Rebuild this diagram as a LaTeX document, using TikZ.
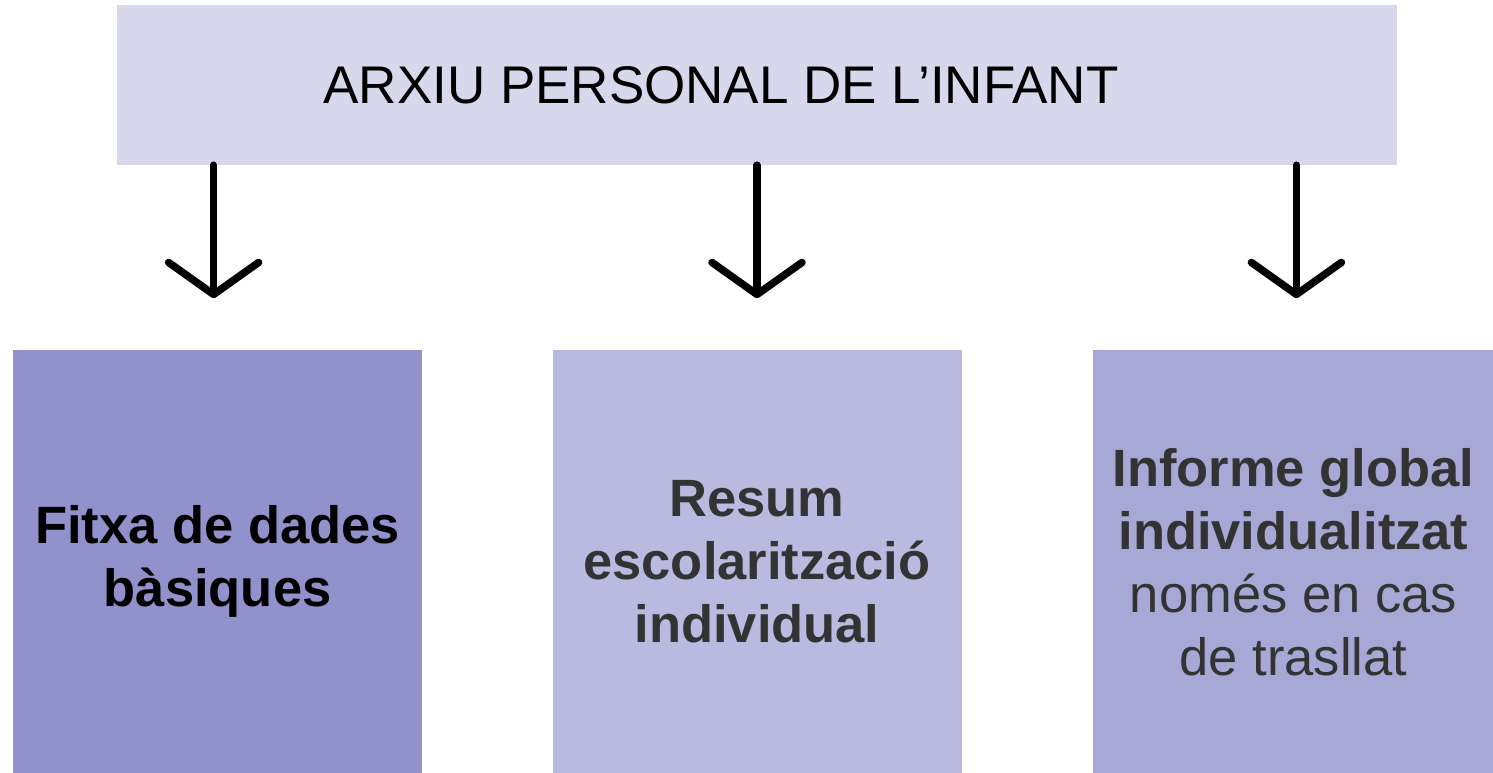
\documentclass[tikz,border=0pt]{standalone}
\usepackage{fontspec}
\setmainfont{Liberation Sans}
\usetikzlibrary{positioning}
\usetikzlibrary{calc}
\usetikzlibrary{arrows.meta}
\definecolor{arxiufill}{RGB}{216,216,236}
\definecolor{fitxafill}{RGB}{145,145,204}
\definecolor{resumfill}{RGB}{186,186,224}
\definecolor{informefill}{RGB}{168,168,214}
\definecolor{doctext}{RGB}{51,51,51}
\tikzset{x=1pt, y=-1pt,
    topbox/.style={
        fill=arxiufill,
        minimum width=1280pt,
        minimum height=160pt,
        inner sep=0pt,
        font=\fontsize{53}{63}\selectfont},
    docbox/.style={
        minimum width=409pt,
        minimum height=423pt,
        inner sep=0pt,
        align=center,
        font=\fontsize{52.5}{63}\selectfont\bfseries},
    down/.style={
        draw,
        line width=7.5pt,
        line cap=round,
        -{Straight Barb[length=32pt,width=90pt,round]},
        shorten >=52pt}}

\begin{document}
\begin{tikzpicture}
        \useasboundingbox (0,0) rectangle (1493,773);
        \node[topbox] (arxiu) at (757,85) {\hspace*{-72pt}ARXIU PERSONAL DE L’INFANT};
        \node[docbox,fill=resumfill,text=doctext,below=185pt of arxiu] (resum) {Resum\\escolarització\\individual};
        \node[docbox,fill=fitxafill,left=130pt of resum] (fitxa) {Fitxa de dades\\bàsiques};
        \node[docbox,fill=informefill,text=doctext,minimum width=401pt,right=131pt of resum] (informe)
            {Informe global\\individualitzat\\\mdseries només en cas\\\mdseries de trasllat};

        \draw[down] ($(arxiu.south -| fitxa.north)+(-4,0)$) -- ($(fitxa.north)+(-4,0)$);
        \draw[down] (arxiu.south -| resum.north) -- (resum.north);
        \draw[down] ($(arxiu.south -| informe.north)+(3,0)$) -- ($(informe.north)+(3,0)$);
    \end{tikzpicture}
\end{document}
